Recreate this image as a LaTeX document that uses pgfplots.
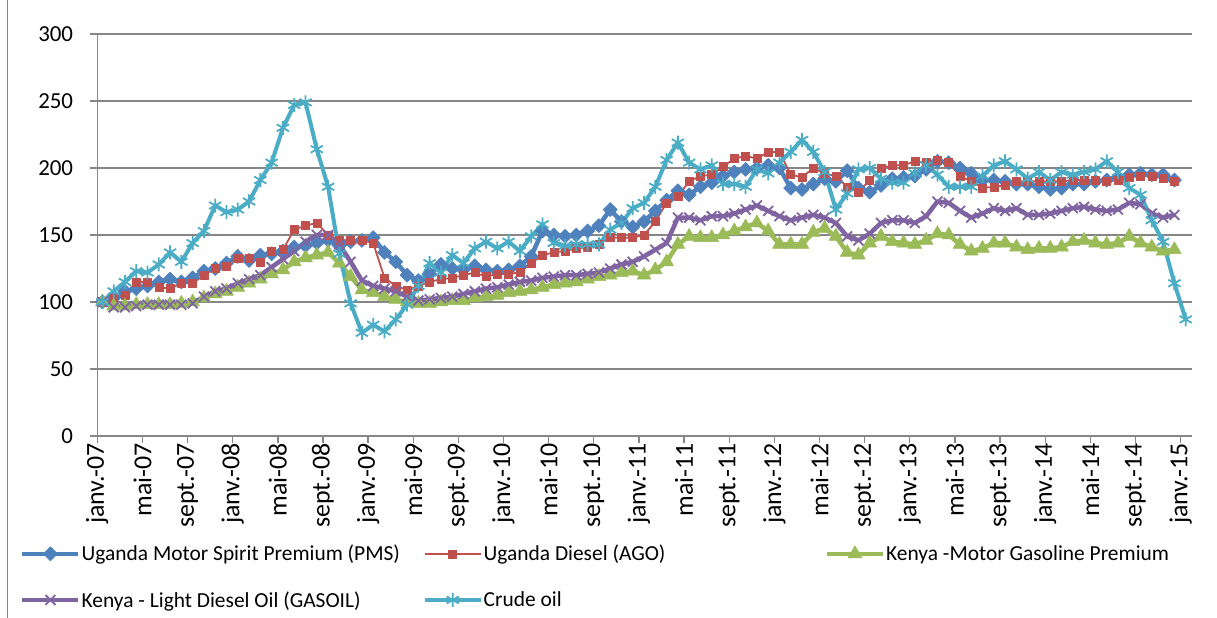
\documentclass[border=0pt]{standalone}
\usepackage{fontspec}
\setmainfont{Carlito}
\usepackage{pgfplots}
\usepackage{pgfplotstable}
\pgfplotsset{compat=1.18}
\definecolor{cPMS}{HTML}{4F81BD}
\definecolor{cAGO}{HTML}{C0504D}
\definecolor{cKMG}{HTML}{9BBB59}
\definecolor{cKGO}{HTML}{8064A2}
\definecolor{cCRU}{HTML}{4BACC6}
\definecolor{axisgray}{HTML}{868686}
\pgfplotstableread{
m pms ago kmgp kgas crude
0 100 100 100 100 100
1 103 103 97 96 108
2 108 105 97 96 115
3 110 115 98 97 123
4 112 115 98 98 122
5 115 111 98 98 128
6 117 110 98 98 137
7 115 114 99 98 130
8 118 114 100 99 144
9 123 120 103 104 153
10 125 125 106 108 172
11 129 127 108 110 167
12 134 133 111 114 169
13 131 133 114 117 175
14 135 130 117 120 191
15 136 138 121 126 204
16 138 139 124 132 230
17 141 154 130 138 247
18 142 157 133 145 249
19 144 159 135 150 214
20 146 150 137 150 186
21 142 146 129 143 136
22 145 146 119 130 99
23 146 146 109 116 77
24 148 144 107 112 83
25 137 118 104 110 78
26 130 112 102 108 87
27 120 109 100 104 98
28 116 112 99 101 112
29 121 115 99 102 129
30 128 117 100 103 122
31 125 118 101 104 135
32 124 120 101 106 129
33 127 122 103 108 140
34 124 119 104 110 145
35 123 121 105 111 140
36 124 121 107 113 145
37 127 122 108 115 138
38 134 129 109 116 149
39 153 135 111 118 158
40 150 137 113 119 144
41 149 138 114 120 142
42 150 140 115 120 143
43 153 141 117 121 143
44 157 143 119 122 143
45 169 148 120 125 154
46 160 148 122 128 159
47 156 148 123 130 170
48 160 150 120 134 174
49 168 160 124 139 186
50 176 174 130 144 206
51 183 179 143 163 219
52 180 190 149 163 204
53 186 194 148 161 199
54 189 195 148 164 202
55 194 201 150 164 188
56 197 207 153 166 188
57 199 209 156 169 186
58 200 207 159 172 199
59 202 212 153 168 196
60 200 212 143 164 204
61 185 195 143 161 212
62 184 193 143 163 221
63 188 200 152 165 212
64 192 196 155 163 197
65 190 194 149 159 169
66 198 186 137 149 181
67 185 182 135 146 199
68 182 191 144 151 200
69 187 200 149 159 192
70 192 202 145 161 189
71 193 202 144 161 189
72 194 205 143 159 196
73 199 204 146 164 202
74 205 206 151 175 195
75 204 204 150 174 186
76 200 194 143 168 186
77 196 190 138 163 186
78 191 185 140 166 194
79 191 186 144 170 202
80 190 187 144 168 205
81 188 190 141 170 199
82 188 190 139 165 192
83 186 190 140 165 197
84 184 190 140 166 191
85 185 190 141 168 197
86 188 191 145 170 195
87 188 191 146 171 197
88 190 191 144 169 199
89 191 190 143 168 205
90 193 191 144 169 197
91 195 193 149 174 185
92 196 194 144 173 180
93 195 194 141 166 161
94 195 192 138 163 145
95 191 190 139 165 114
96 nan nan nan nan 87
}\datatable
\newcommand{\lfont}{\fontsize{21.5}{24}\selectfont}
\newcommand{\yfont}{\fontsize{23}{26}\selectfont}
\newcommand{\xfont}{\fontsize{26}{28}\selectfont}
\begin{document}
\begin{tikzpicture}
\useasboundingbox (0,0) rectangle (1217bp,618bp);
\fill[white] (0,0) rectangle (1217bp,618bp);
\draw[axisgray, line width=1bp] (7bp,0) -- (7bp,618bp);
\begin{axis}[
  at={(97.3bp,182bp)}, anchor=south west,
  scale only axis, width=1094.7bp, height=402bp,
  xmin=0, xmax=97, ymin=0, ymax=300,
  axis x line*=bottom, axis y line*=left,
  axis line style={draw=axisgray, line width=1.5bp},
  tick align=outside, major tick length=7bp,
  tick style={draw=axisgray, line width=1.3bp},
  ymajorgrids, grid style={draw=axisgray, line width=1.5bp},
  xtick={0,4,...,96},
  xticklabels={janv.-07,mai-07,sept.-07,janv.-08,mai-08,sept.-08,janv.-09,mai-09,sept.-09,janv.-10,mai-10,sept.-10,janv.-11,mai-11,sept.-11,janv.-12,mai-12,sept.-12,janv.-13,mai-13,sept.-13,janv.-14,mai-14,sept.-14,janv.-15},
  ytick={0,50,...,300},
  /pgf/number format/assume math mode=true,
  tick label style={text=black},
  xticklabel style={font=\xfont, rotate=90, anchor=east, inner sep=0pt},
  yticklabel style={font=\yfont, anchor=east, inner sep=0pt, xshift=-17bp},
  legend columns=3,
  legend style={at={(axis description cs:-0.0706,-0.2712)}, anchor=north west,
    draw=none, fill=none, inner sep=0pt, font=\lfont,
    nodes={inner sep=0pt},
    /tikz/every odd column/.append style={column sep=1bp},
    /tikz/every even column/.append style={column sep=16bp},
    row sep=29bp},
  legend image code/.code={\draw[mark repeat=2,mark phase=2,#1] plot coordinates {(0bp,0bp)(28bp,0bp)(56bp,0bp)};},
  every axis plot/.append style={line join=round},
]
\addplot[draw=cPMS, line width=4.5bp, mark=square*, mark size=5bp,
  mark options={rotate=45, fill=cPMS, draw=cPMS, line width=0.5bp}]
  table[x expr=\thisrow{m}+0.45, y=pms] {\datatable};
\addlegendentry{\makebox[325bp][l]{Uganda Motor Spirit Premium (PMS)}}
\addplot[draw=cAGO, line width=1.8bp, mark=square*, mark size=4bp,
  mark options={fill=cAGO, draw=cAGO, line width=0.5bp}]
  table[x expr=\thisrow{m}+0.45, y=ago] {\datatable};
\addlegendentry{\makebox[325bp][l]{Uganda Diesel (AGO)}}
\addplot[draw=cKMG, line width=4.5bp, mark=triangle*, mark size=8bp,
  mark options={fill=cKMG, draw=cKMG, line width=0.5bp}]
  table[x expr=\thisrow{m}+0.45, y=kmgp] {\datatable};
\addlegendentry{\makebox[325bp][l]{Kenya -Motor Gasoline Premium}}
\addplot[draw=cKGO, line width=4.5bp, mark=x, mark size=7bp,
  mark options={draw=cKGO, line width=1.8bp}]
  table[x expr=\thisrow{m}+0.45, y=kgas] {\datatable};
\addlegendentry{\makebox[325bp][l]{Kenya - Light Diesel Oil (GASOIL)}}
\addplot[draw=cCRU, line width=4bp, mark=asterisk, mark size=7bp,
  mark options={draw=cCRU, line width=1.8bp}]
  table[x expr=\thisrow{m}+0.45, y=crude] {\datatable};
\addlegendentry{\makebox[325bp][l]{Crude oil}}
\end{axis}
\end{tikzpicture}
\end{document}
